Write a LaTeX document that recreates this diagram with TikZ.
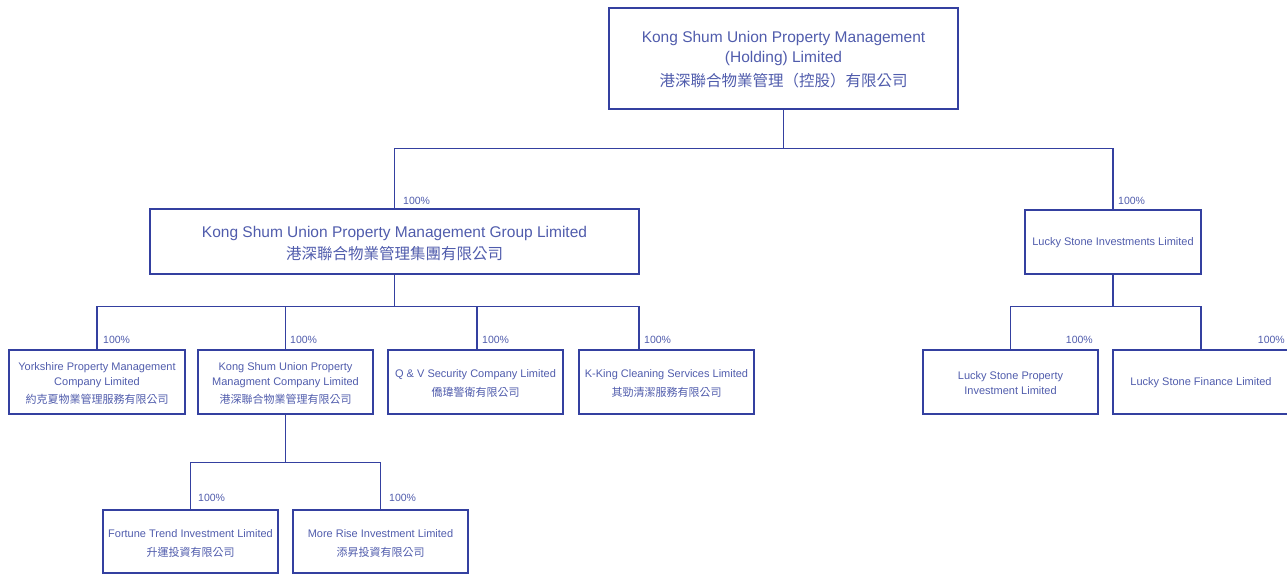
\documentclass[tikz,border=0pt]{standalone}
\usepackage{fontspec}
\setmainfont{Liberation Sans}
\newfontfamily\cjk{Noto Sans CJK TC}
\definecolor{lc}{RGB}{52,64,160}
\definecolor{tc}{RGB}{80,92,172}
\begin{document}
\begin{tikzpicture}[x=1pt,y=-1pt,
  box/.style={draw=lc, line width=1.2pt, text=tc, align=center, inner sep=0pt},
  big/.style={box, font=\fontsize{15.5}{20}\selectfont},
  small/.style={box, font=\fontsize{11}{15}\selectfont, minimum width=176pt, minimum height=64pt},
  pct/.style={text=tc, font=\fontsize{10.5}{12}\selectfont, inner sep=0pt},
  link/.style={draw=lc, line width=1.1pt}]
\useasboundingbox (0,0) rectangle (1287,575);

% boxes
\node[big, minimum width=349pt, minimum height=101pt] (top) at (783.5,58.5)
  {\rule{0pt}{14pt}Kong Shum Union Property Management\\(Holding) Limited\\[4pt]{\cjk 港深聯合物業管理（控股）有限公司}};
\node[big, minimum width=489pt, minimum height=65pt] (grp) at (394.5,241.5)
  {\rule{0pt}{15pt}Kong Shum Union Property Management Group Limited\\[2pt]{\cjk 港深聯合物業管理集團有限公司}};
\node[small] (lsi) at (1113,242) {\rule{0pt}{10pt}Lucky Stone Investments Limited};

\node[small] (yor) at (97,382) {\rule{0pt}{11pt}Yorkshire Property Management\\Company Limited\\[3pt]{\cjk 約克夏物業管理服務有限公司}};
\node[small, minimum width=175pt] (ksm) at (285.5,382) {\rule{0pt}{11pt}Kong Shum Union Property\\Managment Company Limited\\[3pt]{\cjk 港深聯合物業管理有限公司}};
\node[small, minimum width=175pt] (qv) at (475.5,382) {\rule{0pt}{11pt}Q \& V Security Company Limited\\[4pt]{\cjk 僑瑋警衛有限公司}};
\node[small, minimum width=175pt] (kk) at (666.5,382) {\rule{0pt}{11pt}K-King Cleaning Services Limited\\[4pt]{\cjk 其勁清潔服務有限公司}};

\node[small, minimum width=175pt, minimum height=63pt] (for) at (190.5,541.5) {\rule{0pt}{11pt}Fortune Trend Investment Limited\\[4pt]{\cjk 升運投資有限公司}};
\node[small, minimum width=175pt, minimum height=63pt] (mor) at (380.5,541.5) {\rule{0pt}{11pt}More Rise Investment Limited\\[4pt]{\cjk 添昇投資有限公司}};

\node[small, minimum width=175pt] (lsp) at (1010.5,382) {\rule{0pt}{11pt}Lucky Stone Property\\Investment Limited};
\node[small] (lsf) at (1201,382) {\rule{0pt}{10pt}Lucky Stone Finance Limited};

% connectors
\draw[link] (top.south) -- ++(0,39) coordinate (j1);
\draw[link] (j1) -| (grp.north);
\draw[link] (j1) -| (lsi.north);

\draw[link] (grp.south) -- ++(0,32) coordinate (j2);
\draw[link] (j2) -| (yor.north);
\draw[link] (j2) -| (ksm.north);
\draw[link] (j2) -| ([xshift=1.5pt]qv.north);
\draw[link] (j2) -| ([xshift=-27.5pt]kk.north);

\draw[link] (ksm.south) -- ++(0,48) coordinate (j3);
\draw[link] (j3) -| (for.north);
\draw[link] (j3) -| (mor.north);

\draw[link] (lsi.south) -- ++(0,32) coordinate (j4);
\draw[link] (j4) -| (lsp.north);
\draw[link] (j4) -| (lsf.north);

% percentages
\node[pct, anchor=west] (p1) at (403,201) {100\%};
\node[pct, anchor=west] (p2) at (1118,201) {100\%};
\node[pct, anchor=west] (p3) at (103,340) {100\%};
\node[pct, anchor=west] (p4) at (290,340) {100\%};
\node[pct, anchor=west] (p5) at (482,340) {100\%};
\node[pct, anchor=west] (p6) at (644,340) {100\%};
\node[pct, anchor=east] (p7) at (1093,340) {100\%};
\node[pct, anchor=east] (p8) at (1285,340) {100\%};
\node[pct, anchor=west] (p9) at (198,498) {100\%};
\node[pct, anchor=west] (p10) at (389,498) {100\%};
\end{tikzpicture}
\end{document}
